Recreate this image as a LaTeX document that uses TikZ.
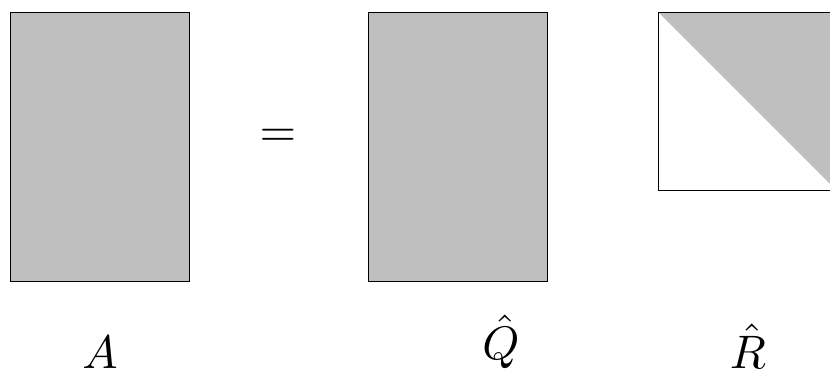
\documentclass[tikz,border=0pt]{standalone}
\begin{document}
\begin{tikzpicture}[x=1pt,y=-1pt,
  mat/.style={draw=black,line width=1pt},
  lab/.style={anchor=base,inner sep=0pt}]
\useasboundingbox (0,0) rectangle (830,372);
\begin{scope}
\clip (0,0) rectangle (830,372);
\fill[gray!50] (10,12) rectangle (189,281);
\draw[mat] (10,12) rectangle (189,281);
\fill[gray!50] (368,12) rectangle (547,281);
\draw[mat] (368,12) rectangle (547,281);
\fill[gray!50] (658,12) -- (836,12) -- (836,190) -- cycle;
\draw[mat] (658,12) rectangle (836,190);
\end{scope}
\node[lab] (eq) at (278,146) {\scalebox{4.7}{$=$}};
\node[lab] (A) at (100,368) {\scalebox{4.7}{$A$}};
\node[lab] (Q) at (501,359) {\scalebox{4.7}{$\hat{Q}$}};
\node[lab] (R) at (748,368) {\scalebox{4.7}{$\hat{R}$}};
\end{tikzpicture}
\end{document}
